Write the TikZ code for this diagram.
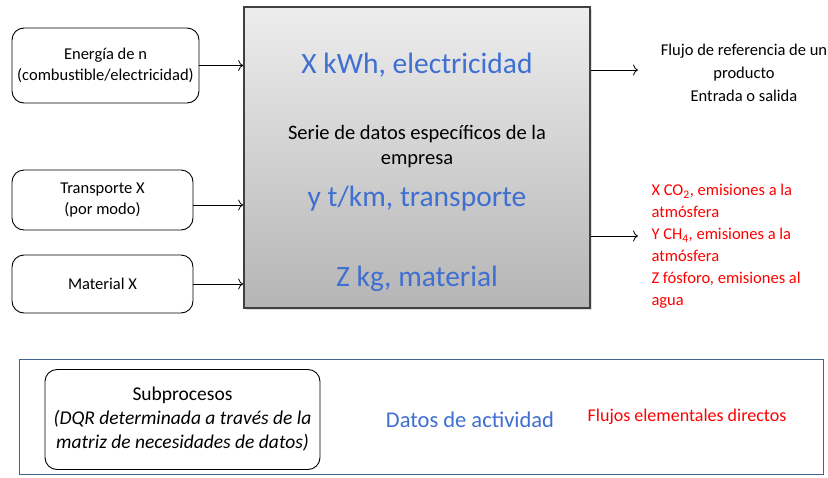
\documentclass[tikz,border=0pt]{standalone}
\usepackage{fontspec}
\setmainfont{Carlito}
\usetikzlibrary{shadows, arrows.meta}
\definecolor{datoblue}{HTML}{3F6FD0}
\definecolor{flujored}{HTML}{FF0000}
\definecolor{framebl}{HTML}{41618F}
\begin{document}
\begin{tikzpicture}[x=1pt, y=-1pt,
    entrada/.style={draw, rounded corners=12pt, line width=0.9pt, align=center, font=\fontsize{16.5}{21}\selectfont, inner sep=0pt},
    grande/.style={text=datoblue, font=\fontsize{29.5}{32}\selectfont},
    rojo/.style={text=flujored, align=left, font=\fontsize{16.5}{22}\selectfont},
    flecha/.style={-{To[length=5pt, width=11pt]}, line width=0.8pt}]
    \useasboundingbox (0,0) rectangle (828,477);
    %% proceso central
    \node[draw=black!75, line width=1.6pt, top color=black!7, bottom color=black!29, minimum width=346pt, minimum height=301pt, drop shadow={opacity=0.25, shadow xshift=1.5pt, shadow yshift=-1.5pt}] (proceso) at (417,157.5) {};
    \node[grande] (kwh) at (417,65) {X kWh, electricidad};
    \node[align=center, font=\fontsize{20.5}{25}\selectfont] (serie) at (417,147) {Serie de datos específicos de la\\empresa};
    \node[grande] (tkm) at (417,199) {y t/km, transporte};
    \node[grande] (kg) at (417,279) {Z kg, material};
    %% entradas
    \node[entrada, minimum width=187pt, minimum height=75pt] (energia) at (105.5,65.5) {Energía de n\\(combustible/electricidad)};
    \node[entrada, minimum width=181pt, minimum height=60pt] (transp) at (102.5,200) {Transporte X\\(por modo)};
    \node[entrada, minimum width=181pt, minimum height=58pt] (mater) at (102.5,284) {Material X};
    \draw[flecha] (energia.east) -- (energia.east -| proceso.west);
    \draw[flecha] ([yshift=-5pt]transp.east) -- ([yshift=-5pt]transp.east -| proceso.west);
    \draw[flecha] (mater.east) -- (mater.east -| proceso.west);
    %% salidas
    \coordinate (sal1) at (638,70);
    \coordinate (sal2) at (638,236);
    \draw[flecha] (proceso.east |- sal1) -- (sal1);
    \draw[flecha] (proceso.east |- sal2) -- (sal2);
    \node[align=center, font=\fontsize{16.5}{23}\selectfont] (refer) at (744,73) {Flujo de referencia de un\\producto\\Entrada o salida};
    \node[rojo, anchor=west] (emis) at (648,246.5) {X CO\textsubscript{2}, emisiones a la\\atmósfera\\Y CH\textsubscript{4}, emisiones a la\\atmósfera\\Z fósforo, emisiones al\\agua};
    %% leyenda
    \draw[framebl, line width=0.9pt, drop shadow={opacity=0.2, shadow xshift=1pt, shadow yshift=-1pt}, fill=white] (19,359) rectangle (823,474);
    \node[entrada, minimum width=275pt, minimum height=100pt, font=\fontsize{19.5}{24}\selectfont] (subpro) at (182.5,419.5) {Subprocesos\\\textit{(DQR determinada a través de la}\\\textit{matriz de necesidades de datos)}};
    \node[text=datoblue, font=\fontsize{22.5}{26}\selectfont] (activ) at (470,420) {Datos de actividad};
    \node[text=flujored, font=\fontsize{18}{20}\selectfont] (flujos) at (687,417) {Flujos elementales directos};
\end{tikzpicture}
\end{document}
